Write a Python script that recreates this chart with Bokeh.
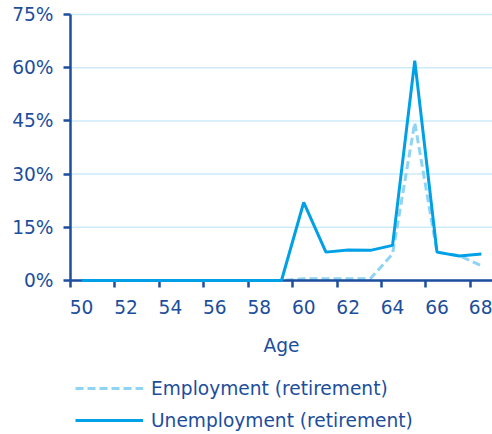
from bokeh.plotting import figure
from bokeh.models import Range1d, FixedTicker, Legend, LegendItem, LinearAxis
from bokeh.embed import file_html
from bokeh.resources import INLINE

# Share of people retiring at each age, by route into retirement (%)
ages = [50, 51, 52, 53, 54, 55, 56, 57, 58, 59, 60, 61, 62, 63, 64, 65, 66, 67, 68]
employment = [0, 0, 0, 0, 0, 0, 0, 0, 0, 0, 0.5, 0.5, 0.5, 0.5, 7.5, 44.5, 8.0, 7.0, 4.2]
unemployment = [0, 0, 0, 0, 0, 0, 0, 0, 0, 0, 22.0, 8.0, 8.6, 8.5, 9.9, 62.0, 8.0, 6.9, 7.5]

age_ticks = [50, 52, 54, 56, 58, 60, 62, 64, 66, 68]
pct_ticks = [0, 15, 30, 45, 60, 75]

DARK = "#1c4e9c"
GRID = "#cdeaf8"
SOLID = "#00a0e6"
DASHED = "#90d4f4"
FONT = "DejaVu Sans"
FS = "18.6px"

W, H = 492, 434
# plot area in pixels inside the canvas: left, right, top, bottom
PL, PR, PT, PB = 70, 492, 14, 280

x0, x1 = ages[0] - 0.5, ages[-1] + 0.5
y0, y1 = pct_ticks[0], pct_ticks[-1]
kx = (x1 - x0) / (PR - PL)
ky = (y1 - y0) / (PB - PT)

# the frame fills the whole canvas; the axes are pinned inside it
p = figure(width=W, height=H, output_backend="svg", toolbar_location=None,
           x_range=Range1d(x0 - PL * kx, x1 + (W - PR) * kx),
           y_range=Range1d(y0 - (H - PB) * ky, y1 + PT * ky),
           min_border=0, outline_line_color=None)
p.grid.visible = False

# horizontal gridlines limited to the plot area
p.segment(x0=[x0] * len(pct_ticks), y0=pct_ticks, x1=[x1] * len(pct_ticks), y1=pct_ticks,
          line_color=GRID, line_width=1.5, level="underlay")

r_emp = p.line(ages, employment, line_color=DASHED, line_width=3, line_dash="8 4")
r_unemp = p.line(ages, unemployment, line_color=SOLID, line_width=3)
r_unemp.level = "overlay"


def style(ax):
    ax.axis_line_color = DARK
    ax.axis_line_width = 2.5
    ax.major_tick_line_color = DARK
    ax.major_tick_line_width = 2.5
    ax.major_tick_in = 0
    ax.major_tick_out = 7
    ax.minor_tick_line_color = None
    ax.major_label_text_color = DARK
    ax.major_label_text_font = FONT
    ax.major_label_text_font_size = FS
    ax.axis_label_text_color = DARK
    ax.axis_label_text_font = FONT
    ax.axis_label_text_font_size = FS
    ax.axis_label_text_font_style = "normal"


# x axis line with tick marks on the age-group boundaries
xa = p.xaxis[0]
style(xa)
xa.fixed_location = y0
xa.bounds = (x0, x1)
xa.ticker = FixedTicker(ticks=[a - 0.5 for a in age_ticks])
xa.major_label_overrides = {a - 0.5: "" for a in age_ticks}

# age labels centred on each group, plus the axis title
xl = LinearAxis()
style(xl)
xl.fixed_location = y0
xl.bounds = (x0, x1)
xl.axis_line_color = None
xl.major_tick_line_color = None
xl.major_tick_out = 0
xl.ticker = FixedTicker(ticks=age_ticks)
xl.major_label_standoff = 19
xl.axis_label = "Age"
xl.axis_label_standoff = 18
p.add_layout(xl, "below")

ya = p.yaxis[0]
style(ya)
ya.fixed_location = x0
ya.bounds = (y0, y1)
ya.ticker = FixedTicker(ticks=pct_ticks)
ya.major_label_overrides = {t: f"{t}%" for t in pct_ticks}
ya.major_label_standoff = 10

legend = Legend(items=[LegendItem(label="Employment (retirement)", renderers=[r_emp]),
                       LegendItem(label="Unemployment (retirement)", renderers=[r_unemp])],
                location=(PL + 5, 2), orientation="vertical",
                glyph_width=68, glyph_height=24, label_height=24, spacing=8,
                label_standoff=8, padding=0, margin=0,
                border_line_color=None, background_fill_alpha=0,
                label_text_font=FONT, label_text_font_size=FS, label_text_color=DARK)
p.add_layout(legend, "center")

open("out.html", "w").write(file_html(p, INLINE))
